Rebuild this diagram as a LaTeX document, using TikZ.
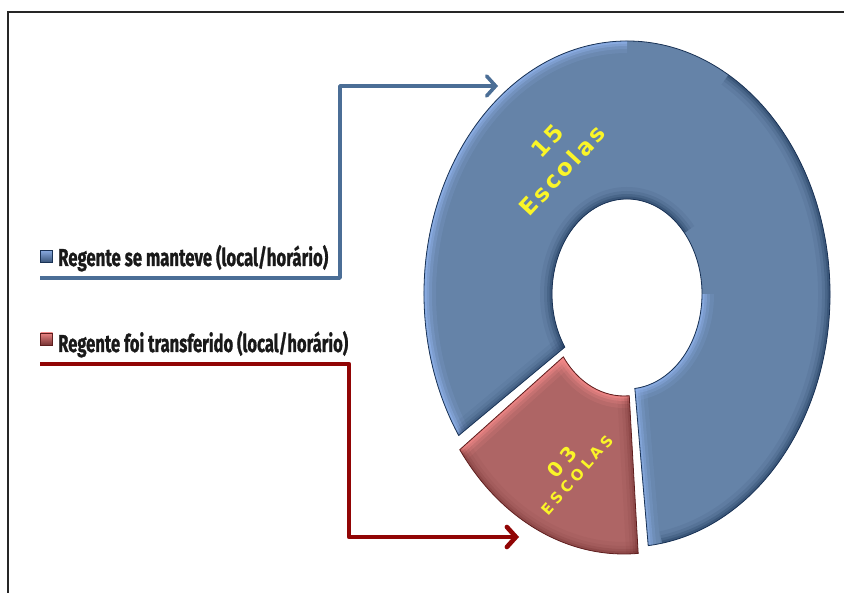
\documentclass[tikz,border=0pt]{standalone}
\usepackage{fontspec}
\usetikzlibrary{arrows.meta,calc}
\newfontfamily\legfont{Fira Sans}[FakeBold=1.2]
\newfontfamily\lblA{DejaVu Sans}[LetterSpace=13]
\newfontfamily\lblB{DejaVu Sans}[LetterSpace=26]
\definecolor{blueBase}{RGB}{101,131,168}
\definecolor{blueLight}{RGB}{150,185,245}
\definecolor{blueDark}{RGB}{25,50,85}
\definecolor{redBase}{RGB}{174,101,101}
\definecolor{redLight}{RGB}{250,140,140}
\definecolor{redDark}{RGB}{95,30,30}
\definecolor{conBlue}{RGB}{75,110,150}
\definecolor{conRed}{RGB}{145,5,5}
\definecolor{lblYellow}{RGB}{250,245,40}
\tikzset{
  frameline/.style={line width=2pt,color=black!85},
  bluecon/.style={line width=3.6pt,color=conBlue,line join=round,-{Straight Barb[length=9pt,width=20pt,line cap=round]}},
  redcon/.style={line width=4.6pt,color=conRed,line join=round,-{Straight Barb[length=9pt,width=20pt,line cap=round]}},
  legtext/.style={inner sep=0pt,anchor=base west,font=\legfont\bfseries,text=black!90},
  bluemark/.style={top color=blueLight!70!blueBase,bottom color=blueDark!60!blueBase,draw=blueDark,line width=0.6pt},
  redmark/.style={top color=redLight!80!redBase,bottom color=redDark!70!redBase,draw=redDark,line width=0.6pt},
  ylabA/.style={font=\lblA\bfseries\fontsize{23}{31}\selectfont,text=lblYellow,inner sep=0pt,align=center},
  ylabB/.style={font=\lblB\bfseries\fontsize{15}{18}\selectfont,text=lblYellow,inner sep=0pt,align=center},
}
\begin{document}
\begin{tikzpicture}[x=1pt,y=1pt]
\useasboundingbox (0,0) rectangle (844,-593);
\fill[white] (0,0) rectangle (844,-593);
\draw[frameline] (8,-593) -- (8,-12) -- (844,-12);

\coordinate (cb) at (627,-294);
\coordinate (cr) at (624,-301);
\def\bluepath{($(cb)+(276:203 and 253)$) arc[start angle=276,end angle=574,x radius=203,y radius=253] -- ($(cb)+(574:75 and 95)$) arc[start angle=574,end angle=276,x radius=75,y radius=95] -- cycle}
\def\redpath{($(cr)+(216:203 and 253)$) arc[start angle=216,end angle=274,x radius=203,y radius=253] -- ($(cr)+(274:75 and 95)$) arc[start angle=274,end angle=216,x radius=75,y radius=95] -- cycle}

% blue slice
\begin{scope}
\fill[blueBase] \bluepath;
\clip \bluepath;
\foreach \w/\o in {24/0.10,16/0.15,10/0.25,5/0.35}{
  \draw[line width=\w pt,blueLight,opacity=\o*1.3] ($(cb)+(90:203 and 253)$) arc[start angle=90,end angle=214,x radius=203,y radius=253];
  \draw[line width=\w pt,blueDark,opacity=\o*0.8] ($(cb)+(280:203 and 253)$) arc[start angle=280,end angle=420,x radius=203,y radius=253];
  \draw[line width=\w pt,blueDark,opacity=\o*0.8] ($(cb)+(40:75 and 95)$) arc[start angle=40,end angle=214,x radius=75,y radius=95];
  \draw[line width=\w pt,blueLight,opacity=\o*1.2] ($(cb)+(276:75 and 95)$) arc[start angle=276,end angle=360,x radius=75,y radius=95];
  \draw[line width=\w pt,blueLight,opacity=\o] ($(cb)+(276:75 and 95)$) -- ($(cb)+(276:203 and 253)$);
  \draw[line width=\w pt,blueDark,opacity=\o*0.6] ($(cb)+(214:75 and 95)$) -- ($(cb)+(214:203 and 253)$);
}
\end{scope}
\draw[blueDark,line width=0.8pt] \bluepath;

% red slice
\begin{scope}
\fill[redBase] \redpath;
\clip \redpath;
\foreach \w/\o in {24/0.10,16/0.15,10/0.25,5/0.35}{
  \draw[line width=\w pt,redLight,opacity=\o*1.4] ($(cr)+(216:75 and 95)$) arc[start angle=216,end angle=274,x radius=75,y radius=95];
  \draw[line width=\w pt,redLight,opacity=\o*1.4] ($(cr)+(216:75 and 95)$) -- ($(cr)+(216:203 and 253)$);
  \draw[line width=\w pt,redDark,opacity=\o*0.5] ($(cr)+(274:75 and 95)$) -- ($(cr)+(274:203 and 253)$);
  \draw[line width=\w pt,redDark,opacity=\o*0.5] ($(cr)+(216:203 and 253)$) arc[start angle=216,end angle=274,x radius=203,y radius=253];
}
\end{scope}
\draw[redDark,line width=0.8pt] \redpath;

% slice labels
\node[ylabA,rotate=47] (n15) at (551,-160) {\hspace*{22pt}15\\Escolas};
\node[ylabB,rotate=49] (n03) at (569,-468) {{\fontsize{20}{20}\selectfont 03}\\ESCOLAS};

% legend
\node[bluemark,minimum size=12pt,inner sep=0pt] (mkb) at (46.5,-256.5) {};
\node[legtext] (legb) at (58,-266) {\resizebox{270pt}{21pt}{Regente se manteve (local/horário)}};
\node[redmark,minimum size=12pt,inner sep=0pt] (mkr) at (46.5,-339) {};
\node[legtext] (legr) at (58,-352) {\resizebox{290pt}{21pt}{Regente foi transferido (local/horário)}};

% connectors
\coordinate (b0) at (40,-278);
\coordinate (b1) at (340,-278);
\coordinate (b2) at (340,-86);
\coordinate (btip) at (498,-86);
\draw[bluecon] (b0) -- (b1) -- (b2) -- (btip);
\coordinate (r0) at (40,-364);
\coordinate (r1) at (349,-364);
\coordinate (r2) at (349,-537);
\coordinate (rtip) at (519,-537);
\draw[redcon] (r0) -- (r1) -- (r2) -- (rtip);
\end{tikzpicture}
\end{document}
